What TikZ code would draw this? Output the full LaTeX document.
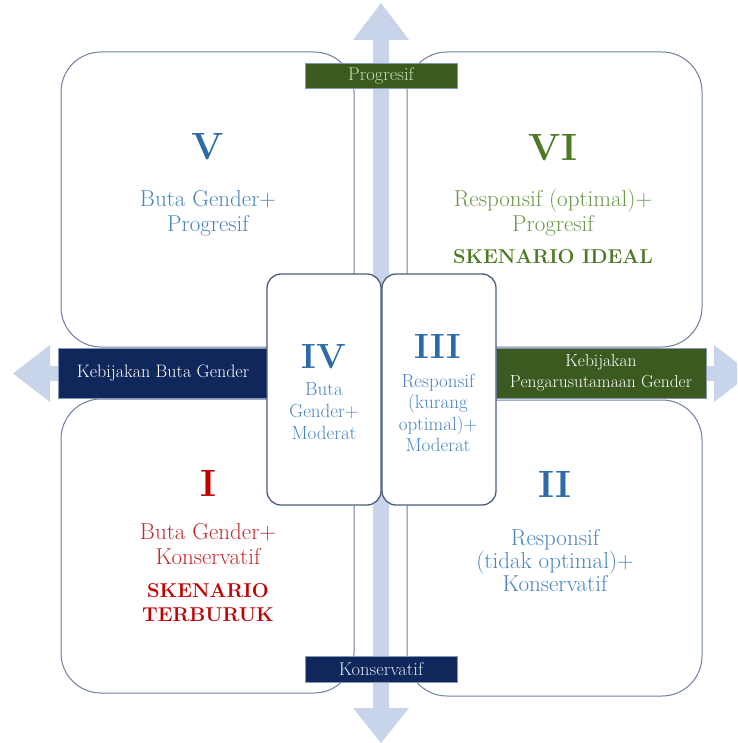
\documentclass[tikz,border=0pt]{standalone}
\usepackage{fontspec}
\definecolor{arrowc}{HTML}{C8D4E9}
\definecolor{boxline}{HTML}{6F80A0}
\definecolor{boxlineb}{HTML}{4C5C7C}
\definecolor{navy}{HTML}{10275C}
\definecolor{dgreen}{HTML}{3A5A1F}
\definecolor{barline}{HTML}{8595B5}
\definecolor{bluenum}{HTML}{2C6AAA}
\definecolor{bluetxt}{HTML}{4A84C2}
\definecolor{greennum}{HTML}{4C7A24}
\definecolor{greentxt}{HTML}{6A9848}
\definecolor{rednum}{HTML}{C00000}
\definecolor{redtxt}{HTML}{C42A2E}
\definecolor{progtxt}{HTML}{C8E2B6}
\definecolor{konstxt}{HTML}{DCE4F2}
\newcommand\myfs[2]{\fontsize{#1}{#2}\selectfont}
\begin{document}
\begin{tikzpicture}[x=1pt,y=-1pt,
  bigbox/.style={draw=boxline, line width=1pt, fill=white, rounded corners=40pt, inner sep=0pt},
  smallbox/.style={draw=boxlineb, line width=1.3pt, fill=white, rounded corners=14pt, minimum width=114pt, minimum height=231pt, inner sep=0pt},
  barbox/.style={draw=barline, line width=0.5pt, inner sep=0pt, align=center},
  numeral/.style={font=\bfseries\myfs{38}{40}},
  smallnum/.style={font=\bfseries\myfs{35}{38}},
  maintxt/.style={font=\myfs{23}{25}, align=center},
  boldtxt/.style={font=\bfseries\myfs{20}{24}, align=center},
  smalltxt/.style={font=\myfs{19}{22}, align=center}
]
\useasboundingbox (0,0) rectangle (737,743);
\clip (0,0) rectangle (737,743);
% arrows
\fill[arrowc] (373,40) -- (353,40) -- (381,3) -- (409,40) -- (389,40) -- (389,708) -- (409,708) -- (381,743) -- (353,708) -- (373,708) -- cycle;
\fill[arrowc] (50,366) -- (50,345) -- (13,373.5) -- (50,402) -- (50,381) -- (714,381) -- (714,402) -- (751,373.5) -- (714,345) -- (714,366) -- cycle;
% big boxes
\node[bigbox, minimum width=293pt, minimum height=295pt] (V) at (207.5,199.5) {};
\node[bigbox, minimum width=295pt, minimum height=295pt] (VI) at (554.5,199.5) {};
\node[bigbox, minimum width=293pt, minimum height=294pt] (I) at (207.5,546) {};
\node[bigbox, minimum width=295pt, minimum height=296pt] (II) at (554.5,548) {};
% bars
\node[barbox, fill=navy, text=white, minimum width=210pt, minimum height=50pt, font=\myfs{18}{21}] (kbg) at (163,373) {Kebijakan Buta Gender};
\node[barbox, fill=dgreen, text=white, minimum width=210pt, minimum height=50pt, font=\myfs{17.5}{21}] (kpg) at (601,373) {Kebijakan\\Pengarusutamaan Gender};
\node[barbox, fill=dgreen, text=progtxt, minimum width=152pt, minimum height=25pt, font=\myfs{18.5}{21}] (prog) at (381,75.5) {Progresif};
\node[barbox, fill=navy, text=konstxt, minimum width=152pt, minimum height=26pt, font=\myfs{18.5}{21}] (kons) at (381,669) {Konservatif};
% small boxes
\node[smallbox] (IV) at (324,389.5) {};
\node[smallbox] (III) at (439,389.5) {};
% texts V
\node[numeral, text=bluenum] (tV) at (208,147) {V};
\node[maintxt, text=bluetxt] (sV) at (208,213) {Buta Gender+\\Progresif};
% texts VI
\node[numeral, text=greennum] (tVI) at (553,148) {VI};
\node[maintxt, text=greentxt] (sVI) at (553,213) {Responsif (optimal)+\\Progresif};
\node[boldtxt, text=greennum] (kVI) at (553,257) {SKENARIO IDEAL};
% texts I
\node[numeral, text=rednum] (tI) at (208,483) {I};
\node[maintxt, text=redtxt] (sI) at (208,544) {Buta Gender+\\Konservatif};
\node[boldtxt, text=rednum] (kI) at (208,603) {SKENARIO\\TERBURUK};
% texts II
\node[numeral, text=bluenum] (tII) at (555,484) {II};
\node[maintxt, text=bluetxt, font=\myfs{23}{23}] (sII) at (555,561) {Responsif\\(tidak optimal)+\\Konservatif};
% texts IV
\node[smallnum, text=bluenum] (tIV) at (324,357) {IV};
\node[smalltxt, text=bluetxt] (sIV) at (324,411) {Buta\\Gender+\\Moderat};
% texts III
\node[smallnum, text=bluenum] (tIII) at (438,346) {III};
\node[smalltxt, text=bluetxt, font=\myfs{19}{21.3}] (sIII) at (438,413) {Responsif\\(kurang\\optimal)+\\Moderat};
\end{tikzpicture}
\end{document}
